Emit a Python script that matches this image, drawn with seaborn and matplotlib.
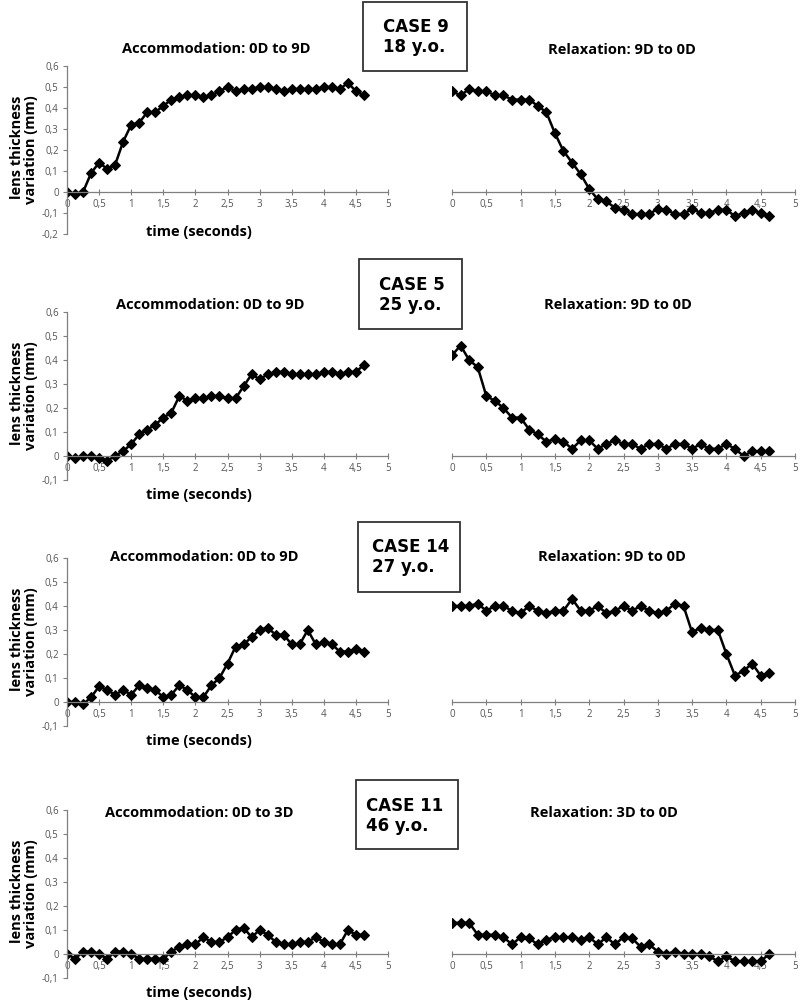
import numpy as np
import seaborn as sns
import matplotlib.pyplot as plt
from matplotlib.ticker import FuncFormatter, MultipleLocator
from matplotlib.patches import Rectangle

# sample times (s), same for every trace
time_s = [0, 0.125, 0.25, 0.375, 0.5, 0.625, 0.75, 0.875, 1.0, 1.125,
          1.25, 1.375, 1.5, 1.625, 1.75, 1.875, 2.0, 2.125, 2.25, 2.375,
          2.5, 2.625, 2.75, 2.875, 3.0, 3.125, 3.25, 3.375, 3.5, 3.625,
          3.75, 3.875, 4.0, 4.125, 4.25, 4.375, 4.5, 4.625]

# lens thickness variation (mm)
case9_acc = [0.00, -0.01, 0.00, 0.09, 0.14, 0.11, 0.13, 0.24, 0.32, 0.33,
             0.38, 0.38, 0.41, 0.44, 0.45, 0.46, 0.46, 0.45, 0.46, 0.48,
             0.50, 0.48, 0.49, 0.49, 0.50, 0.50, 0.49, 0.48, 0.49, 0.49,
             0.49, 0.49, 0.50, 0.50, 0.49, 0.52, 0.48, 0.46]
case9_rel = [0.48, 0.46, 0.49, 0.48, 0.48, 0.46, 0.46, 0.44, 0.44, 0.44,
             0.41, 0.38, 0.28, 0.195, 0.14, 0.085, 0.015, -0.035, -0.045, -0.075,
             -0.085, -0.105, -0.105, -0.105, -0.08, -0.085, -0.105, -0.105, -0.08, -0.10,
             -0.10, -0.085, -0.085, -0.115, -0.10, -0.085, -0.10, -0.115]
case5_acc = [0.00, -0.01, 0.00, 0.00, -0.01, -0.02, 0.00, 0.02, 0.05, 0.09,
             0.11, 0.13, 0.16, 0.18, 0.25, 0.23, 0.24, 0.24, 0.25, 0.25,
             0.24, 0.24, 0.29, 0.34, 0.32, 0.34, 0.35, 0.35, 0.34, 0.34,
             0.34, 0.34, 0.35, 0.35, 0.34, 0.35, 0.35, 0.38]
case5_rel = [0.42, 0.46, 0.40, 0.37, 0.25, 0.23, 0.20, 0.16, 0.16, 0.11,
             0.09, 0.06, 0.07, 0.06, 0.03, 0.065, 0.065, 0.03, 0.05, 0.065,
             0.05, 0.05, 0.03, 0.05, 0.05, 0.03, 0.05, 0.05, 0.03, 0.05,
             0.03, 0.03, 0.05, 0.03, 0.00, 0.02, 0.02, 0.02]
case14_acc = [0.00, 0.00, -0.01, 0.02, 0.065, 0.05, 0.03, 0.05, 0.03, 0.07,
              0.06, 0.05, 0.02, 0.03, 0.07, 0.05, 0.02, 0.02, 0.07, 0.10,
              0.16, 0.23, 0.24, 0.27, 0.30, 0.31, 0.28, 0.28, 0.24, 0.24,
              0.30, 0.24, 0.25, 0.24, 0.21, 0.21, 0.22, 0.21]
case14_rel = [0.40, 0.40, 0.40, 0.41, 0.38, 0.40, 0.40, 0.38, 0.37, 0.40,
              0.38, 0.37, 0.38, 0.38, 0.43, 0.38, 0.38, 0.40, 0.37, 0.38,
              0.40, 0.38, 0.40, 0.38, 0.37, 0.38, 0.41, 0.40, 0.29, 0.31,
              0.30, 0.30, 0.20, 0.11, 0.13, 0.16, 0.11, 0.12]
case11_acc = [0.00, -0.02, 0.01, 0.01, 0.00, -0.02, 0.01, 0.01, 0.00, -0.02,
              -0.02, -0.02, -0.02, 0.01, 0.03, 0.04, 0.04, 0.07, 0.05, 0.05,
              0.07, 0.10, 0.11, 0.07, 0.10, 0.08, 0.05, 0.04, 0.04, 0.05,
              0.05, 0.07, 0.05, 0.04, 0.04, 0.10, 0.08, 0.08]
case11_rel = [0.13, 0.13, 0.13, 0.08, 0.08, 0.08, 0.07, 0.04, 0.07, 0.065,
              0.04, 0.06, 0.07, 0.07, 0.07, 0.06, 0.07, 0.04, 0.07, 0.04,
              0.07, 0.065, 0.03, 0.04, 0.01, 0.00, 0.01, 0.00, 0.00, 0.00,
              -0.01, -0.03, -0.01, -0.03, -0.03, -0.03, -0.03, 0.00]

case_labels = ['CASE 9\n18 y.o.', 'CASE 5\n25 y.o.', 'CASE 14\n27 y.o.', 'CASE 11\n46 y.o.']
acc_titles = ['Accommodation: 0D to 9D', 'Accommodation: 0D to 9D',
              'Accommodation: 0D to 9D', 'Accommodation: 0D to 3D']
rel_titles = ['Relaxation: 9D to 0D', 'Relaxation: 9D to 0D',
              'Relaxation: 9D to 0D', 'Relaxation: 3D to 0D']
acc_series = [case9_acc, case5_acc, case14_acc, case11_acc]
rel_series = [case9_rel, case5_rel, case14_rel, case11_rel]
y_min = [-0.2, -0.1, -0.1, -0.1]

sns.set_theme(style='white')
plt.rcParams['font.family'] = ['Open Sans', 'DejaVu Sans']

W, H = 800, 1005
fig = plt.figure(figsize=(W / 100, H / 100), dpi=100)

# layout in pixels
axes_bottom = [234, 480, 726, 978]
time_label_y = [232, 495, 741, 993]
acc_title_xy = [(216, 49), (210, 305), (204, 557), (199, 813)]
rel_title_xy = [(622, 50), (618, 305), (612, 557), (604, 813)]
boxes = [(363, 2, 467, 71), (359, 259, 462, 329), (358, 522, 460, 592), (356, 780, 458, 849)]
box_text_xy = [(383, 37), (379, 295), (372, 557), (366, 816)]

grey = '#7f7f7f'
comma = FuncFormatter(lambda v, p: ('%g' % round(v, 2)).replace('.', ','))


def style_axis(ax, ymin, show_y):
    ax.set_xlim(0, 5)
    ax.set_ylim(ymin, 0.6)
    ax.set_facecolor('none')
    for s in ['top', 'right']:
        ax.spines[s].set_visible(False)
    ax.spines['bottom'].set_position(('data', 0))
    ax.spines['bottom'].set_color(grey)
    ax.spines['bottom'].set_linewidth(0.9)
    ax.xaxis.set_major_locator(MultipleLocator(0.5))
    ax.xaxis.set_major_formatter(comma)
    ax.tick_params(axis='x', bottom=True, direction='inout', length=4, width=0.8,
                   color=grey, labelsize=7, labelcolor='#555555', pad=3)
    if show_y:
        ax.spines['left'].set_color(grey)
        ax.spines['left'].set_linewidth(0.9)
        ax.yaxis.set_major_locator(MultipleLocator(0.1))
        ax.yaxis.set_major_formatter(comma)
        ax.tick_params(axis='y', left=True, direction='out', length=3, width=0.8,
                       color=grey, labelsize=7, labelcolor='#555555', pad=3)
    else:
        ax.spines['left'].set_visible(False)
        ax.set_yticks([])
    ax.set_xlabel('')
    ax.set_ylabel('')
    ax.grid(False)


for i in range(4):
    b = 1 - axes_bottom[i] / H
    h = 168 / H
    axL = fig.add_axes([67 / W, b, 321 / W, h])
    axR = fig.add_axes([452 / W, b, 343 / W, h])

    sns.lineplot(x=time_s, y=acc_series[i], ax=axL, color='black', linewidth=1.8,
                 marker='D', markersize=4.8, markeredgecolor='black')
    sns.lineplot(x=time_s, y=rel_series[i], ax=axR, color='black', linewidth=1.8,
                 marker='D', markersize=4.8, markeredgecolor='black')

    style_axis(axL, y_min[i], True)
    style_axis(axR, y_min[i], False)

    axL.text(-0.09, 0.5, 'lens thickness\nvariation (mm)', transform=axL.transAxes,
             rotation=90, ha='right', va='center', fontsize=10.5, fontweight='bold',
             linespacing=1.0, color='black')
    fig.text(199 / W, 1 - time_label_y[i] / H, 'time (seconds)',
             ha='center', va='center', fontsize=10.5, fontweight='bold', color='black')

    tx, ty = acc_title_xy[i]
    fig.text(tx / W, 1 - ty / H, acc_titles[i], ha='center', va='center',
             fontsize=10.5, fontweight='bold', color='black')
    tx, ty = rel_title_xy[i]
    fig.text(tx / W, 1 - ty / H, rel_titles[i], ha='center', va='center',
             fontsize=10.5, fontweight='bold', color='black')

    x0, y0, x1, y1 = boxes[i]
    fig.patches.append(Rectangle((x0 / W, 1 - y1 / H), (x1 - x0) / W, (y1 - y0) / H,
                                 transform=fig.transFigure, fill=True, facecolor='white',
                                 edgecolor='#333333', linewidth=1.3))
    bx, by = box_text_xy[i]
    fig.text(bx / W, 1 - by / H, case_labels[i], ha='left', va='center',
             fontsize=12, fontweight='bold', family='DejaVu Sans',
             linespacing=1.15, color='black')

fig.savefig('out.png', dpi=100, facecolor='white')
